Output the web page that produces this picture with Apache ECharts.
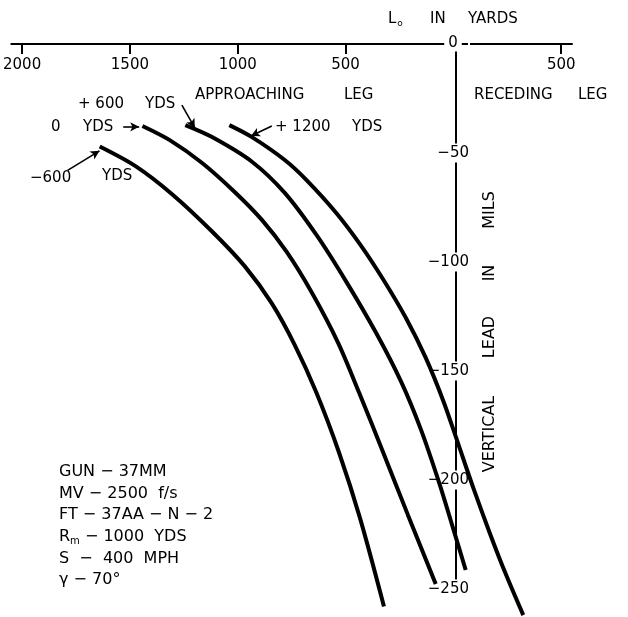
<!DOCTYPE html>
<html><head><meta charset="utf-8">
<script src="https://cdn.jsdelivr.net/npm/echarts@6/dist/echarts.min.js"></script>
<style>html,body{margin:0;padding:0;background:#fff}#c{width:628px;height:617px}</style>
</head><body><div id="c"></div>
<script>
// L0 in yards (negative = approaching leg), vertical lead in mils
const curveNames = ['-600 YDS', '0 YDS', '+600 YDS', '+1200 YDS'];
const curveM600 = [[-1640,-47],[-1474,-56],[-1303,-69],[-1119,-86],[-967,-102],[-842,-119],[-736,-138],[-635,-160],[-530,-187.5],[-433,-217.5],[-322,-258]];
const curve0 = [[-1442,-37.6],[-1317,-44],[-1165,-54.6],[-1013,-68],[-888,-80.7],[-773,-95.4],[-658,-113.8],[-534,-137.2],[-437,-160],[-331,-186],[-211,-216],[-82,-247.7]];
const curveP600 = [[-1243,-37.2],[-1119,-42.7],[-934,-54],[-782,-68.3],[-635,-87.6],[-497,-109],[-358,-132.6],[-242,-155],[-150,-177],[-67,-201],[-3,-221.6],[57,-241.3]];
const curveP1200 = [[-1039,-37.2],[-934,-42.7],[-782,-53.2],[-681,-62.4],[-543,-77.5],[-427,-92.7],[-321,-108.7],[-220,-125.7],[-128,-144],[-45,-164.2],[24,-183.9],[94,-204.1],[172,-225.2],[241,-242.7],[324,-262]];
const xTickValues = [-2000, -1500, -1000, -500, 500];
// annotation arrows: [from, to] in data units
const arrowM600 = [[-1789,-58],[-1641,-49]];
const arrow0 = [[-1531,-38],[-1457,-38]];
const arrowP600 = [[-1259,-28],[-1199,-38.5]];
const arrowP1200 = [[-842,-37.6],[-939,-42.2]];
const paramLines = ['GUN − 37MM', 'MV − 2500  f/s', 'FT − 37AA − N − 2', 'R{s|m} − 1000  YDS', 'S  −  400  MPH', 'γ − 70°'];

const FONT = 'DejaVu Sans';
const chart = echarts.init(document.getElementById('c'));
const curves = [curveM600, curve0, curveP600, curveP1200];
const arrows = [arrowM600, arrow0, arrowP600, arrowP1200];

const series = curves.map((d, i) => ({
  name: curveNames[i], type: 'line', data: d, smooth: 0.3, symbol: 'none', clip: false,
  lineStyle: { color: '#000', width: 4 }, emphasis: { disabled: true },
  markLine: {
    silent: true, symbol: ['none', 'arrow'], symbolSize: [7, 9],
    label: { show: false },
    lineStyle: { color: '#000', width: 1.6, type: 'solid' },
    data: [[{ coord: arrows[i][0] }, { coord: arrows[i][1] }]]
  }
}));

function txt(x, y, text, size, extra) {
  return Object.assign({ type: 'text', x: x, y: y,
    style: Object.assign({ text: text, font: size + 'px ' + FONT, fill: '#000', verticalAlign: 'middle' }, extra || {}) });
}
const rot = (x, y, text) => Object.assign(txt(x, y, text, 16, { align: 'center' }), { rotation: Math.PI / 2 });

const graphic = [
  txt(388, 19, 'L{s|o}', 15, { rich: { s: { fontSize: 9, fontFamily: FONT, padding: [9, 0, 0, 1] } } }),
  txt(430, 19, 'IN', 15),
  txt(468, 19, 'YARDS', 15),
  Object.assign(txt(453, 43, '0', 15, { align: 'center', backgroundColor: '#fff', padding: [1, 4] }), { z: 100 }),
  txt(195, 95, 'APPROACHING', 15),
  txt(344, 95, 'LEG', 15),
  txt(474, 95, 'RECEDING', 15),
  txt(578, 95, 'LEG', 15),
  txt(78, 104, '+ 600', 15),
  txt(145, 104, 'YDS', 15),
  txt(51, 127, '0', 15),
  txt(83, 127, 'YDS', 15),
  txt(275, 127, '+ 1200', 15),
  txt(352, 127, 'YDS', 15),
  txt(30, 178, '−600', 15),
  txt(102, 176, 'YDS', 15),
  rot(490, 434, 'VERTICAL'),
  rot(490, 337, 'LEAD'),
  rot(490, 273, 'IN'),
  rot(490, 210, 'MILS')
].concat(paramLines.map((t, i) => txt(59, 472 + i * 21.6, t, 16,
  { rich: { s: { fontSize: 10, fontFamily: FONT, padding: [10, 0, 0, 0] } } })));

chart.setOption({
  animation: false,
  backgroundColor: '#fff',
  grid: { left: 8, top: 44, width: 564, height: 545 },
  xAxis: {
    type: 'value', position: 'top', min: -2050, max: 550,
    axisLine: { onZero: false, lineStyle: { color: '#000', width: 2 } },
    axisTick: { inside: true, length: 10, lineStyle: { color: '#000', width: 2 }, customValues: xTickValues },
    axisLabel: { inside: true, margin: 14, color: '#000', fontFamily: FONT, fontSize: 15,
      customValues: xTickValues, formatter: v => String(Math.abs(v)) },
    splitLine: { show: false }
  },
  yAxis: {
    type: 'value', min: -250, max: 0, interval: 50, position: 'left', offset: -444.7,
    axisLine: { show: true, onZero: false, lineStyle: { color: '#000', width: 2 } },
    axisTick: { show: false },
    axisLabel: { align: 'right', margin: -14, color: '#000', fontFamily: FONT, fontSize: 15,
      backgroundColor: '#fff', padding: [2, 1],
      formatter: v => v === 0 ? '' : '−' + Math.abs(v) },
    splitLine: { show: false }
  },
  graphic: graphic,
  series: series
});
</script></body></html>
